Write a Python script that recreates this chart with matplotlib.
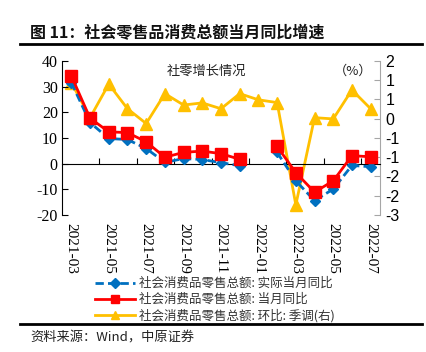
import numpy as np
import matplotlib
matplotlib.use("Agg")
import matplotlib.pyplot as plt
from matplotlib.lines import Line2D

plt.rcParams['font.family'] = ['Noto Sans CJK SC', 'DejaVu Sans']

months = ["2021-03", "2021-04", "2021-05", "2021-06", "2021-07", "2021-08",
          "2021-09", "2021-10", "2021-11", "2021-12", "2022-01", "2022-02",
          "2022-03", "2022-04", "2022-05", "2022-06", "2022-07"]
real_yoy = [31.6, 16.0, 9.8, 9.4, 5.9, 0.5, 2.0, 1.6, 0.4, -0.8, np.nan, 4.4,
            -6.7, -14.4, -9.9, -0.7, -1.2]
nominal_yoy = [34.2, 17.7, 12.4, 12.1, 8.5, 2.5, 4.4, 4.9, 3.9, 1.7, np.nan, 6.7,
               -3.5, -11.1, -6.7, 3.1, 2.7]
mom_sa = [1.30, 0.16, 1.25, 0.45, -0.03, 0.94, 0.57, 0.64, 0.45, 0.94, 0.74, 0.65,
          -2.67, 0.16, 0.12, 1.06, 0.45]
left_ticks = [-20, -10, 0, 10, 20, 30, 40]
right_ticks = list(np.linspace(-3, 2, 9))
right_labels = ["-3", "-2", "-2", "-1", "-1", "0", "1", "1", "2"]
labels = ["社会消费品零售总额: 实际当月同比", "社会消费品零售总额: 当月同比",
          "社会消费品零售总额: 环比: 季调(右)"]

W, H = 426, 352
fig = plt.figure(figsize=(W / 100, H / 100), dpi=100)

def fx(px):
    return px / W

def fy(py):
    return 1 - py / H

ax = fig.add_axes([fx(62), fy(215), fx(380) - fx(62), fy(61) - fy(215)])
x = np.arange(len(months))

BLUE, RED, YEL = "#0070C0", "#FF0000", "#FFC000"

ax.plot(x, real_yoy, color=BLUE, lw=2, ls=(0, (3, 1.5)), marker="D", ms=5.5,
        zorder=3)
ax.plot(x, nominal_yoy, color=RED, lw=2, marker="s", ms=8, zorder=4)
ax.set_xlim(-0.5, len(months) - 0.5)
ax.set_ylim(-20, 40)
ax.set_yticks(left_ticks)
ax.set_yticklabels([str(t) for t in left_ticks])
ax.tick_params(axis="y", direction="in", length=4, width=0.8, color="black",
               pad=3, labelsize=11.5, labelfontfamily="Liberation Serif")
for s in ["top", "right", "bottom"]:
    ax.spines[s].set_visible(False)
ax.spines["left"].set_linewidth(0.8)

ax.set_xticks(x[::2])
ax.set_xticklabels(months[::2], rotation=270, va="top", ha="center")
ax.tick_params(axis="x", length=0, pad=6, labelsize=11,
               labelfontfamily="Liberation Serif")

sec = ax.secondary_xaxis(1 / 3)
sec.set_xticks(np.arange(1.5, len(months) - 1, 2))
sec.set_xticklabels([])
sec.tick_params(direction="in", length=4, width=0.8, color="black")
sec.spines["bottom"].set_linewidth(0.8)

ax2 = ax.twinx()
ax2.plot(x, mom_sa, color=YEL, lw=2, marker="^", ms=8, zorder=2)
ax2.set_ylim(-3, 2)
ax2.set_yticks(right_ticks)
ax2.set_yticklabels(right_labels)
ax2.tick_params(axis="y", direction="in", length=4, width=0.8, color="#A6A6A6",
                pad=4, labelsize=11.5, labelfontfamily="Liberation Sans")
for s in ["top", "left", "bottom"]:
    ax2.spines[s].set_visible(False)
ax2.spines["right"].set_color("#A6A6A6")
ax2.spines["right"].set_linewidth(0.8)
ax.set_zorder(ax2.get_zorder() + 1)
ax.patch.set_visible(False)

ax.text(0.455, 0.975, "社零增长情况", transform=ax.transAxes, ha="center",
        va="top", fontsize=9.5, color="#222222")
ax.text(0.915, 0.975, "（%）", transform=ax.transAxes, ha="center",
        va="top", fontsize=9.5, color="#222222")

handles = [Line2D([], [], color=BLUE, lw=2, ls=(0, (3, 1.5)), marker="D", ms=5),
           Line2D([], [], color=RED, lw=2, marker="s", ms=6),
           Line2D([], [], color=YEL, lw=2, marker="^", ms=6)]
fig.legend(handles, labels, loc="upper left", bbox_to_anchor=(fx(95), fy(277)),
           frameon=False, fontsize=9, handlelength=3.2, handletextpad=0.35,
           labelspacing=0.25, borderpad=0, borderaxespad=0,
           labelcolor="#333333")

fig.text(fx(30), fy(33), "图 11：社会零售品消费总额当月同比增速", ha="left",
         va="center", fontsize=11.5, fontweight="bold", color="#111111")
fig.add_artist(Line2D([fx(20), fx(422)], [fy(44), fy(44)], color="black", lw=2))
fig.add_artist(Line2D([fx(20), fx(422)], [fy(324), fy(324)], color="black", lw=2))
fig.text(fx(30), fy(338), "资料来源：Wind，中原证券", ha="left", va="center",
         fontsize=9.5, color="#222222")

fig.savefig("out.png", dpi=100)
